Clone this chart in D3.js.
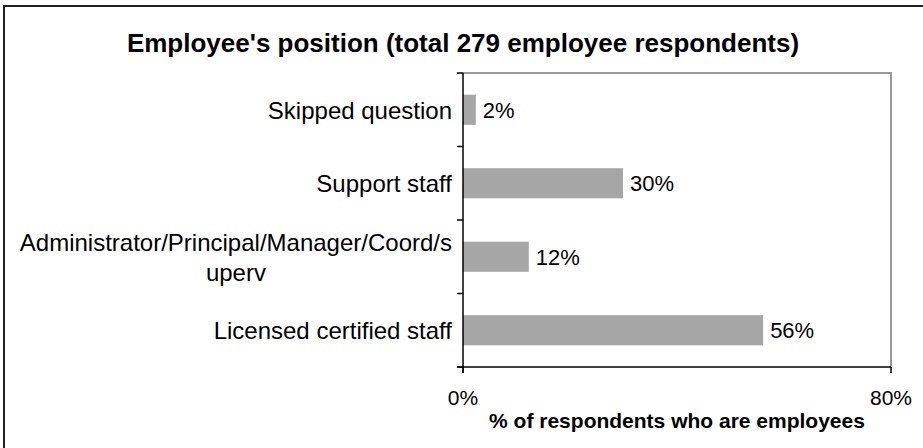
<!DOCTYPE html>
<html>
<head>
<meta charset="utf-8">
<script src="https://cdn.jsdelivr.net/npm/d3@7"></script>
<style>
  body { margin: 0; background: #fff; }
  text { font-family: "Liberation Sans", Arial, sans-serif; fill: #000; }
</style>
</head>
<body>
<div id="viz"></div>
<script>
  const categories = ["Skipped question", "Support staff", "Administrator/Principal/Manager/Coord/s\nuperv", "Licensed certified staff"]
  const values = [0.024, 0.299, 0.123, 0.561]
  const valueLabels = ["2%", "30%", "12%", "56%"]
  const xTicks = [0, 0.8]
  const xTickLabels = ["0%", "80%"]

  const width = 923
  const height = 448
  const margin = { top: 73, right: 32, bottom: 81, left: 463 }

  const svg = d3.select("#viz").append("svg")
    .attr("width", width)
    .attr("height", height)

  // outer frame (only top and left edges show)
  svg.append("rect")
    .attr("x", 4).attr("y", 6)
    .attr("width", width + 10).attr("height", height + 10)
    .attr("fill", "none")
    .attr("stroke", "#222")
    .attr("stroke-width", 2)

  svg.append("text")
    .attr("x", 463).attr("y", 52)
    .attr("text-anchor", "middle")
    .style("font-size", "26px")
    .style("font-weight", "bold")
    .text("Employee's position (total 279 employee respondents)")

  const x = d3.scaleLinear().domain([0, 0.8]).range([margin.left, width - margin.right])
  const y = d3.scaleBand().domain(categories).range([margin.top, height - margin.bottom]).paddingInner(0.59).paddingOuter(0.295)

  const plotTop = margin.top, plotBottom = height - margin.bottom

  // plot area border top/right
  svg.append("path")
    .attr("d", `M${x(0)},${plotTop}H${x(0.8)}V${plotBottom}`)
    .attr("fill", "none")
    .attr("stroke", "#999")
    .attr("stroke-width", 2)

  svg.selectAll("rect.bar")
    .data(values)
    .enter()
    .append("rect")
    .attr("class", "bar")
    .attr("x", x(0))
    .attr("y", (d, i) => y(categories[i]))
    .attr("width", d => x(d) - x(0))
    .attr("height", y.bandwidth())
    .attr("fill", "#a6a6a6")

  svg.selectAll("text.val")
    .data(values)
    .enter()
    .append("text")
    .attr("class", "val")
    .attr("x", d => x(d) + 7)
    .attr("y", (d, i) => y(categories[i]) + y.bandwidth() / 2 + 8)
    .style("font-size", "22px")
    .text((d, i) => valueLabels[i])

  // y axis
  const step = (plotBottom - plotTop) / categories.length
  const yAxis = svg.append("g")
  yAxis.append("line")
    .attr("x1", x(0)).attr("x2", x(0))
    .attr("y1", plotTop).attr("y2", plotBottom + 6)
    .attr("stroke", "#000").attr("stroke-width", 1.5)
  yAxis.selectAll("line.tick")
    .data(d3.range(categories.length + 1))
    .enter()
    .append("line")
    .attr("class", "tick")
    .attr("x1", x(0) - 6).attr("x2", x(0))
    .attr("y1", i => plotTop + i * step).attr("y2", i => plotTop + i * step)
    .attr("stroke", "#000").attr("stroke-width", 1.5)

  // x axis
  svg.append("line")
    .attr("x1", x(0) - 6).attr("x2", x(0.8))
    .attr("y1", plotBottom).attr("y2", plotBottom)
    .attr("stroke", "#000").attr("stroke-width", 1.5)
  svg.selectAll("line.xtick")
    .data(xTicks)
    .enter()
    .append("line")
    .attr("class", "xtick")
    .attr("x1", d => x(d)).attr("x2", d => x(d))
    .attr("y1", plotBottom).attr("y2", plotBottom + 6)
    .attr("stroke", "#000").attr("stroke-width", 1.5)
  svg.selectAll("text.xtick")
    .data(xTicks)
    .enter()
    .append("text")
    .attr("class", "xtick")
    .attr("x", d => x(d))
    .attr("y", plotBottom + 38)
    .attr("text-anchor", "middle")
    .style("font-size", "21px")
    .text((d, i) => xTickLabels[i])

  svg.append("text")
    .attr("x", (x(0) + x(0.8)) / 2)
    .attr("y", plotBottom + 61)
    .attr("text-anchor", "middle")
    .style("font-size", "21px")
    .style("font-weight", "bold")
    .text("% of respondents who are employees")

  // category labels, multi-line ones centred on their widest line
  const labelRight = x(0) - 11
  categories.forEach(c => {
    const lines = c.split("\n")
    const cy = y(c) + y.bandwidth() / 2
    const t = svg.append("text")
      .style("font-size", "24px")
      .attr("text-anchor", "middle")
    lines.forEach((l, k) => {
      t.append("tspan")
        .attr("x", 0)
        .attr("y", cy + 9 + (k - (lines.length - 1) / 2) * 30)
        .text(l)
    })
    const w = d3.max(t.selectAll("tspan").nodes(), n => n.getComputedTextLength())
    t.selectAll("tspan").attr("x", labelRight - w / 2)
  })
</script>
</body>
</html>
